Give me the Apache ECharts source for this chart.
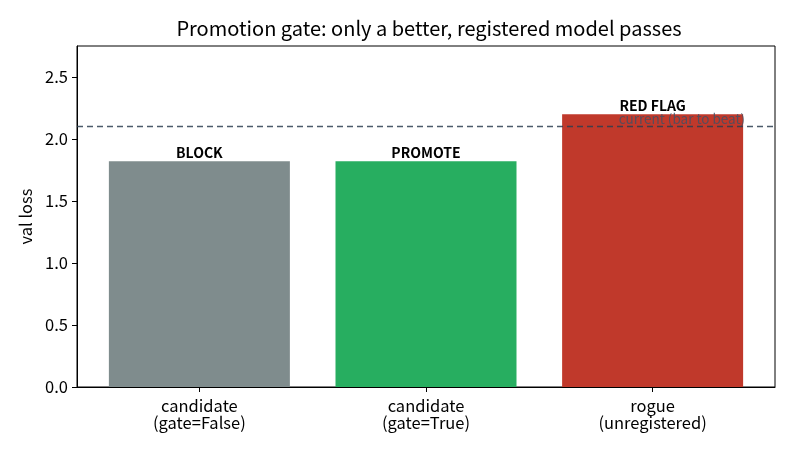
<!DOCTYPE html>
<html>
<head>
<meta charset="utf-8">
<script src="https://cdn.jsdelivr.net/npm/echarts@6/dist/echarts.min.js"></script>
<style>
  html, body { margin: 0; padding: 0; background: #fff; }
  #chart { width: 792px; height: 456px; }
</style>
</head>
<body>
<div id="chart"></div>
<script>
var categories = ["candidate\n(gate=False)", "candidate\n(gate=True)", "rogue\n(unregistered)"];
var positions = [0, 1, 2];
var valLoss = [1.82, 1.82, 2.20];
var verdicts = ["BLOCK", "PROMOTE", "RED FLAG"];
var barColors = ["#7f8c8d", "#27ae60", "#c0392b"];
var currentLoss = 2.10;
var currentLabel = "current (bar to beat)";
var currentLabelX = 1.85;
var yTicks = [0, 0.5, 1.0, 1.5, 2.0, 2.5];

var FONT = '"Noto Sans CJK SC", "Noto Sans", sans-serif';

var chart = echarts.init(document.getElementById("chart"));

var barData = [];
for (var i = 0; i < valLoss.length; i++) {
    barData.push({
        value: [positions[i], valLoss[i]],
        itemStyle: { color: barColors[i] },
        label: { formatter: verdicts[i] }
    });
}

chart.setOption({
    animation: false,
    title: {
        text: "Promotion gate: only a better, registered model passes",
        left: 424,
        textAlign: "center",
        top: 13,
        textStyle: { fontFamily: FONT, fontSize: 20, fontWeight: "normal", color: "#000" }
    },
    grid: {
        left: 77, right: 17, top: 46, bottom: 69,
        show: true, borderColor: "#000", borderWidth: 1, backgroundColor: "transparent"
    },
    xAxis: {
        type: "value",
        min: -0.54,
        max: 2.54,
        splitLine: { show: false },
        axisLine: { show: true, onZero: false, lineStyle: { color: "#000", width: 1 } },
        axisTick: { show: true, customValues: positions, length: 5, lineStyle: { color: "#000" } },
        axisLabel: {
            customValues: positions,
            formatter: function (v) { return categories[Math.round(v)]; },
            fontFamily: FONT, fontSize: 16.5, color: "#000", lineHeight: 17, margin: 10
        }
    },
    yAxis: {
        type: "value",
        min: 0,
        max: 2.75,
        name: "val loss",
        nameLocation: "middle",
        nameGap: 41,
        nameTextStyle: { fontFamily: FONT, fontSize: 16.5, color: "#000" },
        splitLine: { show: false },
        axisLine: { show: true, onZero: false, lineStyle: { color: "#000", width: 1 } },
        axisTick: { show: true, customValues: yTicks, length: 5, lineStyle: { color: "#000" } },
        axisLabel: {
            customValues: yTicks,
            formatter: function (v) { return v.toFixed(1); },
            fontFamily: FONT, fontSize: 16.5, color: "#000", margin: 9
        }
    },
    series: [
        {
            type: "bar",
            data: barData,
            barWidth: 181,
            label: {
                show: true,
                position: "top",
                distance: 2,
                fontFamily: FONT, fontSize: 14, fontWeight: "bold", color: "#000"
            },
            markLine: {
                silent: true,
                symbol: "none",
                label: { show: false },
                lineStyle: { color: "#2c3e50", type: [6, 4], width: 1.3, opacity: 0.85 },
                data: [{ yAxis: currentLoss }]
            }
        },
        {
            type: "scatter",
            symbolSize: 0,
            data: [[currentLabelX, currentLoss]],
            label: {
                show: true,
                formatter: currentLabel,
                position: [0, -1],
                align: "left",
                verticalAlign: "bottom",
                fontFamily: FONT, fontSize: 13.5, color: "#3d5166"
            }
        }
    ]
});
</script>
</body>
</html>
